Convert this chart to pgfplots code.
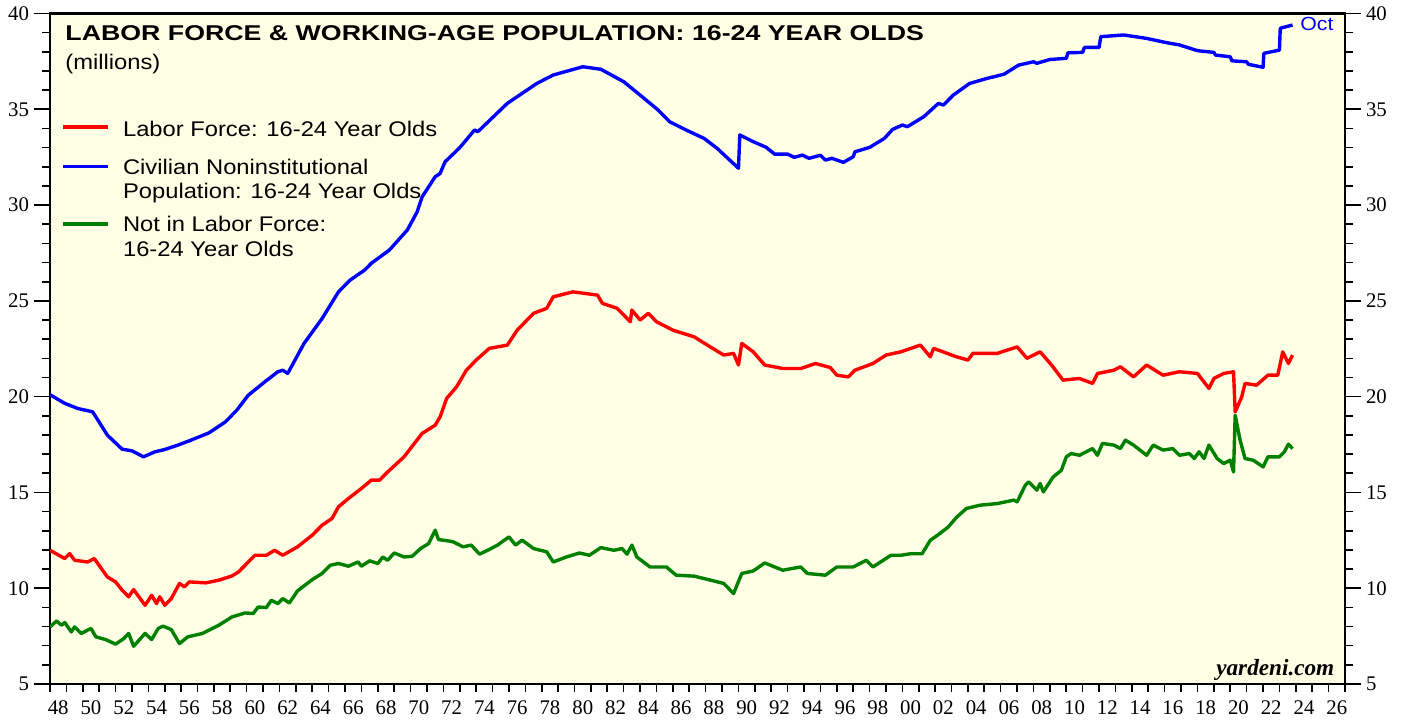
\documentclass[border=0pt]{standalone}
\usepackage{fontspec}
\setmainfont{Liberation Serif}
\newfontfamily\lsans[FakeStretch=1.12]{Liberation Sans}
\newfontfamily\tsans[FakeStretch=1.25]{Liberation Sans}
\usepackage{pgfplots}
\pgfplotsset{compat=1.18}
\definecolor{bg}{RGB}{255,255,230}
\definecolor{dgreen}{RGB}{0,128,0}
\begin{document}
\begin{tikzpicture}
\useasboundingbox (-25pt,-17.5pt) rectangle (678pt,342pt);
\begin{axis}[
 scale only axis, width=647.5pt, height=335.25pt,
 xmin=1948, xmax=2027, ymin=5, ymax=40,
 axis background/.style={fill=bg},
 axis line style={line width=1.2pt},
 tick align=outside,
 xtick={1948.5,1950.5,...,2026.5},
 xticklabels={48,50,52,54,56,58,60,62,64,66,68,70,72,74,76,78,80,82,84,86,88,90,92,94,96,98,00,02,04,06,08,10,12,14,16,18,20,22,24,26},
 minor xtick={1948,1949,...,2027},
 major x tick style={draw=none},
 xtick pos=bottom, ytick pos=left,
 ytick={5,10,...,40}, minor y tick num=4,
 major tick length=8pt, minor tick length=3.8pt,
 every tick/.style={line width=0.8pt, black},
 ticklabel style={font=\fontsize{10.4}{12}\selectfont},
 xticklabel style={yshift=3pt},
 yticklabel style={xshift=1pt},
 /pgf/number format/assume math mode=true,
]
\addplot[red, line width=1.7pt, line join=round] coordinates {
(1948.0,11.98)(1948.9,11.55)(1949.2,11.81)(1949.5,11.46)(1950.3,11.37)(1950.7,11.55)(1951.5,10.59)(1952.0,10.33)(1952.4,9.90)(1952.8,9.55)(1953.1,9.93)(1953.8,9.11)(1954.2,9.63)(1954.5,9.20)(1954.7,9.55)(1955.0,9.11)(1955.4,9.46)(1955.9,10.25)(1956.2,10.07)(1956.5,10.33)(1957.5,10.28)(1958.3,10.42)(1959.1,10.64)(1959.5,10.85)(1960.5,11.72)(1961.2,11.72)(1961.7,11.98)(1962.2,11.72)(1963.1,12.16)(1964.0,12.77)(1964.6,13.29)(1965.2,13.64)(1965.6,14.25)(1966.2,14.68)(1967.0,15.21)(1967.6,15.64)(1968.1,15.64)(1968.6,16.07)(1969.6,16.86)(1970.7,18.08)(1971.5,18.51)(1971.8,18.95)(1972.2,19.91)(1972.8,20.51)(1973.4,21.38)(1974.0,21.91)(1974.8,22.52)(1975.9,22.69)(1976.5,23.47)(1977.5,24.35)(1978.3,24.61)(1978.7,25.21)(1979.9,25.47)(1981.4,25.30)(1981.7,24.87)(1982.6,24.61)(1983.4,23.91)(1983.5,24.52)(1984.0,24.00)(1984.5,24.35)(1985.0,23.91)(1986.0,23.47)(1987.3,23.12)(1988.1,22.69)(1989.1,22.17)(1989.7,22.26)(1990.0,21.65)(1990.2,22.78)(1990.9,22.34)(1991.6,21.65)(1992.7,21.47)(1993.8,21.47)(1994.7,21.73)(1995.6,21.52)(1996.0,21.12)(1996.7,21.03)(1997.1,21.38)(1998.2,21.73)(1999.0,22.17)(1999.9,22.34)(2001.1,22.69)(2001.7,22.08)(2001.9,22.52)(2003.3,22.08)(2004.0,21.91)(2004.3,22.26)(2005.8,22.26)(2007.0,22.60)(2007.6,22.00)(2008.4,22.34)(2009.1,21.65)(2009.8,20.86)(2010.8,20.95)(2011.6,20.69)(2011.9,21.21)(2012.9,21.38)(2013.3,21.56)(2014.1,21.03)(2014.9,21.65)(2015.9,21.12)(2016.9,21.30)(2018.0,21.21)(2018.7,20.43)(2019.0,20.95)(2019.6,21.21)(2020.2,21.30)(2020.3,19.2)(2020.7,19.99)(2020.9,20.69)(2021.6,20.60)(2022.3,21.12)(2022.9,21.12)(2023.2,22.34)(2023.55,21.73)(2023.8,22.17)
};
\addplot[blue, line width=1.7pt, line join=round] coordinates {
(1948.0,20.10)(1948.9,19.65)(1949.7,19.38)(1950.6,19.21)(1951.5,17.99)(1952.4,17.26)(1953.0,17.17)(1953.7,16.86)(1954.4,17.12)(1955.0,17.24)(1955.8,17.47)(1956.6,17.73)(1957.7,18.11)(1958.7,18.68)(1959.4,19.30)(1960.1,20.08)(1961.1,20.77)(1961.9,21.30)(1962.2,21.38)(1962.5,21.21)(1963.5,22.78)(1964.6,24.08)(1965.6,25.47)(1966.3,26.08)(1967.2,26.61)(1967.6,26.96)(1968.7,27.65)(1969.8,28.70)(1970.4,29.65)(1970.7,30.43)(1971.5,31.48)(1971.8,31.65)(1972.1,32.26)(1973.0,33.00)(1973.9,33.92)(1974.1,33.83)(1975.9,35.31)(1977.7,36.35)(1978.7,36.79)(1980.5,37.22)(1981.6,37.09)(1983.0,36.44)(1984.0,35.74)(1985.1,34.96)(1985.8,34.35)(1986.8,33.92)(1987.9,33.48)(1988.7,32.96)(1990.0,31.92)(1990.08,33.66)(1990.9,33.31)(1991.7,33.01)(1992.2,32.66)(1993.0,32.66)(1993.4,32.49)(1993.9,32.61)(1994.3,32.44)(1995.0,32.60)(1995.3,32.35)(1995.7,32.44)(1996.4,32.23)(1997.0,32.52)(1997.1,32.78)(1998.0,33.01)(1998.9,33.48)(1999.4,33.95)(2000.0,34.18)(2000.3,34.09)(2001.3,34.61)(2002.2,35.31)(2002.5,35.22)(2003.1,35.74)(2004.1,36.35)(2005.2,36.62)(2006.2,36.83)(2007.1,37.31)(2008.0,37.48)(2008.2,37.40)(2009.0,37.60)(2010.0,37.66)(2010.1,37.95)(2011.0,37.97)(2011.1,38.23)(2012.0,38.23)(2012.1,38.79)(2013.5,38.88)(2014.9,38.70)(2016.1,38.48)(2016.9,38.36)(2018.0,38.06)(2019.0,37.97)(2019.1,37.83)(2020.0,37.74)(2020.1,37.53)(2021.0,37.48)(2021.1,37.35)(2022.0,37.19)(2022.05,37.92)(2023.0,38.09)(2023.05,39.23)(2023.8,39.40)
};
\addplot[dgreen, line width=1.7pt, line join=round] coordinates {
(1948.0,7.98)(1948.4,8.29)(1948.7,8.07)(1948.9,8.21)(1949.3,7.72)(1949.5,7.98)(1949.9,7.64)(1950.5,7.90)(1950.8,7.46)(1951.4,7.32)(1952.0,7.08)(1952.5,7.37)(1952.8,7.64)(1953.1,6.97)(1953.8,7.64)(1954.2,7.32)(1954.6,7.90)(1954.9,8.02)(1955.4,7.84)(1955.9,7.11)(1956.4,7.46)(1957.3,7.64)(1958.3,8.07)(1959.1,8.50)(1959.9,8.71)(1960.4,8.68)(1960.7,9.02)(1961.2,8.99)(1961.5,9.37)(1961.9,9.20)(1962.2,9.46)(1962.6,9.23)(1963.1,9.86)(1964.0,10.45)(1964.6,10.77)(1965.1,11.20)(1965.6,11.29)(1966.2,11.15)(1966.8,11.37)(1967.0,11.15)(1967.5,11.43)(1968.0,11.29)(1968.3,11.63)(1968.6,11.46)(1969.0,11.84)(1969.6,11.63)(1970.1,11.67)(1970.6,12.07)(1971.1,12.33)(1971.5,13.03)(1971.7,12.54)(1972.3,12.47)(1972.6,12.42)(1973.2,12.16)(1973.7,12.25)(1974.2,11.78)(1974.7,11.98)(1975.3,12.25)(1976.0,12.68)(1976.4,12.25)(1976.8,12.51)(1977.5,12.07)(1978.3,11.90)(1978.7,11.37)(1979.5,11.63)(1980.3,11.84)(1980.9,11.72)(1981.6,12.12)(1982.4,11.98)(1982.9,12.07)(1983.2,11.78)(1983.5,12.25)(1983.8,11.63)(1984.6,11.11)(1985.6,11.11)(1986.2,10.68)(1987.3,10.63)(1988.3,10.42)(1989.1,10.25)(1989.7,9.72)(1990.2,10.77)(1990.9,10.90)(1991.6,11.32)(1992.7,10.94)(1993.8,11.11)(1994.2,10.77)(1995.3,10.68)(1996.0,11.11)(1997.0,11.11)(1997.8,11.46)(1998.2,11.11)(1999.3,11.72)(1999.9,11.72)(2000.5,11.80)(2001.2,11.80)(2001.7,12.50)(2002.2,12.80)(2002.8,13.20)(2003.3,13.70)(2003.9,14.16)(2004.7,14.33)(2005.8,14.42)(2006.8,14.60)(2007.0,14.51)(2007.5,15.38)(2007.7,15.55)(2008.2,15.12)(2008.4,15.47)(2008.6,15.03)(2009.2,15.81)(2009.7,16.16)(2010.0,16.86)(2010.3,17.03)(2010.8,16.94)(2011.6,17.29)(2011.9,16.94)(2012.2,17.56)(2012.9,17.47)(2013.3,17.29)(2013.6,17.73)(2014.1,17.47)(2014.9,16.94)(2015.3,17.47)(2015.9,17.21)(2016.5,17.29)(2016.9,16.94)(2017.5,17.03)(2017.8,16.77)(2018.1,17.12)(2018.4,16.77)(2018.7,17.47)(2019.2,16.77)(2019.6,16.51)(2020.0,16.68)(2020.2,16.07)(2020.3,19.03)(2020.6,17.73)(2020.9,16.77)(2021.4,16.68)(2021.7,16.51)(2022.0,16.33)(2022.3,16.86)(2023.0,16.86)(2023.3,17.12)(2023.55,17.52)(2023.8,17.29)
};
% title and notes
\node[anchor=base west, inner sep=0, font=\tsans\bfseries\fontsize{10.7}{12}\selectfont] at (rel axis cs:0.0116,0.959) {LABOR FORCE \& WORKING-AGE POPULATION: 16-24 YEAR OLDS};
\node[anchor=base west, inner sep=0, font=\lsans\fontsize{10.6}{12}\selectfont] at (rel axis cs:0.0116,0.917) {(millions)};
% legend
\draw[red, line width=1.7pt] (rel axis cs:0.0103,0.8305) -- (rel axis cs:0.0450,0.8305);
\draw[blue, line width=1.7pt] (rel axis cs:0.0103,0.7715) -- (rel axis cs:0.0450,0.7715);
\draw[dgreen, line width=1.7pt] (rel axis cs:0.0103,0.686) -- (rel axis cs:0.0450,0.686);
\begin{scope}[every node/.style={anchor=base west, inner sep=0, font=\lsans\fontsize{10.6}{12}\selectfont}]
\node at (rel axis cs:0.0561,0.8163) {Labor Force: 16-24 Year Olds};
\node at (rel axis cs:0.0561,0.7606) {Civilian Noninstitutional};
\node at (rel axis cs:0.0561,0.724) {Population: 16-24 Year Olds};
\node at (rel axis cs:0.0561,0.6746) {Not in Labor Force:};
\node at (rel axis cs:0.0561,0.638) {16-24 Year Olds};
\end{scope}
\node[anchor=base east, inner sep=0, font=\fontsize{11.6}{13}\selectfont\bfseries\itshape] at (rel axis cs:0.992,0.0134) {yardeni.com};
\node[anchor=west, text=blue, font=\lsans\fontsize{9.5}{11}\selectfont] at (axis cs:2023.85,39.45) {Oct};
\end{axis}
\begin{axis}[
 scale only axis, width=647.5pt, height=335.25pt,
 xmin=1948, xmax=2027, ymin=5, ymax=40,
 axis x line=none, axis y line*=right,
 axis line style={line width=1.2pt},
 tick align=outside,
 ytick={5,10,...,40}, minor y tick num=4,
 major tick length=8pt, minor tick length=3.8pt,
 every tick/.style={line width=0.8pt, black},
 ticklabel style={font=\fontsize{10.4}{12}\selectfont},
 yticklabel style={xshift=-1pt},
 /pgf/number format/assume math mode=true,
]
\addplot[draw=none] coordinates {(1948,5)};
\end{axis}
\end{tikzpicture}
\end{document}
